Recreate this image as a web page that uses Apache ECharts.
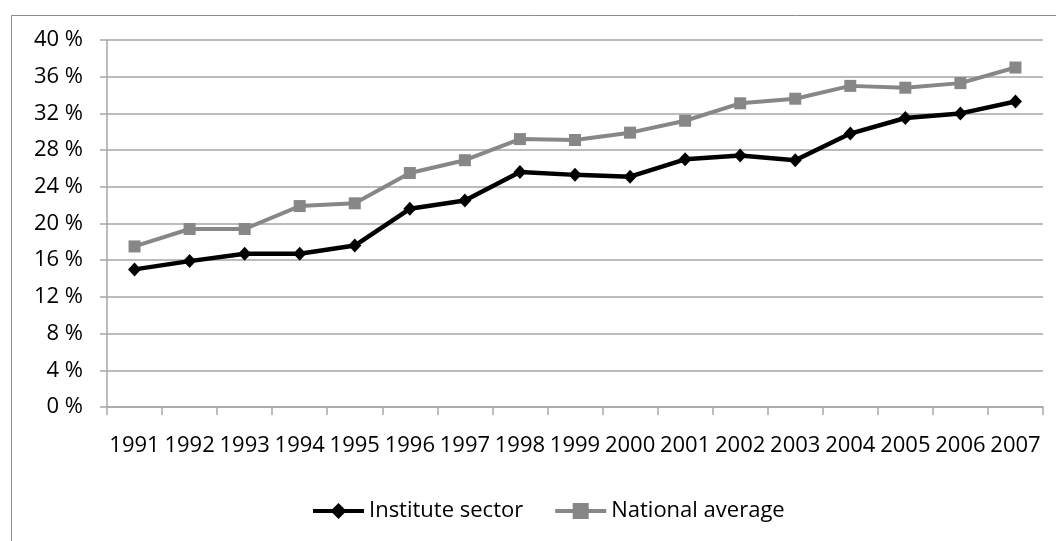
<!DOCTYPE html>
<html>
<head>
<meta charset="utf-8">
<script src="https://cdn.jsdelivr.net/npm/echarts@6/dist/echarts.min.js"></script>
<style>
  html, body { margin: 0; padding: 0; background: #fff; }
  #chart { width: 1056px; height: 541px; }
</style>
</head>
<body>
<div id="chart"></div>
<script>
// Share of researchers (percent), 1991-2007
const years = ['1991','1992','1993','1994','1995','1996','1997','1998','1999','2000','2001','2002','2003','2004','2005','2006','2007'];
const instituteSector = [15.0, 15.9, 16.7, 16.7, 17.6, 21.6, 22.5, 25.6, 25.3, 25.1, 27.0, 27.4, 26.9, 29.8, 31.5, 32.0, 33.3];
const nationalAverage = [17.5, 19.4, 19.4, 21.9, 22.2, 25.5, 26.9, 29.2, 29.1, 29.9, 31.2, 33.1, 33.6, 35.0, 34.8, 35.3, 37.0];

const FONT = '"Open Sans", "Liberation Sans", sans-serif';
const FONT_SIZE = 22;
const AXIS_GRAY = '#a6a6a6';

const chart = echarts.init(document.getElementById('chart'), null, { renderer: 'canvas' });

chart.setOption({
  animation: false,
  backgroundColor: '#ffffff',
  textStyle: { fontFamily: FONT, color: '#000' },
  graphic: [{
    type: 'rect',
    left: 9, top: 13,
    shape: { width: 1200, height: 700 },
    style: { fill: 'none', stroke: '#8c8c8c', lineWidth: 1 },
    silent: true,
    z: -1
  }],
  grid: { left: 107, right: 13, top: 40, bottom: 134, containLabel: false },
  legend: {
    bottom: 14,
    left: 306,
    itemWidth: 51,
    itemHeight: 20,
    itemGap: 30,
    lineStyle: { width: 4 },
    textStyle: { fontFamily: FONT, fontSize: FONT_SIZE, color: '#000' },
    data: ['Institute sector', 'National average']
  },
  xAxis: {
    type: 'category',
    data: years,
    boundaryGap: true,
    axisLine: { lineStyle: { color: AXIS_GRAY, width: 1.5 } },
    axisTick: { show: true, length: 8, interval: 0, lineStyle: { color: AXIS_GRAY, width: 1.5 } },
    axisLabel: { interval: 0, margin: 28, fontSize: FONT_SIZE, color: '#000', fontFamily: FONT }
  },
  yAxis: {
    type: 'value',
    min: 0, max: 40, interval: 4,
    axisLine: { show: true, lineStyle: { color: AXIS_GRAY, width: 1.5 } },
    axisTick: { show: true, length: 7, lineStyle: { color: AXIS_GRAY, width: 1.5 } },
    splitLine: { show: true, lineStyle: { color: AXIS_GRAY, width: 1.5 } },
    axisLabel: { formatter: '{value} %', margin: 24, fontSize: FONT_SIZE, color: '#000', fontFamily: FONT }
  },
  series: [
    {
      name: 'Institute sector',
      type: 'line',
      data: instituteSector,
      symbol: 'diamond',
      symbolSize: [13, 14],
      lineStyle: { color: '#000', width: 4.5 },
      itemStyle: { color: '#000' },
      z: 3
    },
    {
      name: 'National average',
      type: 'line',
      data: nationalAverage,
      symbol: 'rect',
      symbolSize: 12,
      lineStyle: { color: '#878787', width: 4 },
      itemStyle: { color: '#878787' },
      z: 2
    }
  ]
});
</script>
</body>
</html>
